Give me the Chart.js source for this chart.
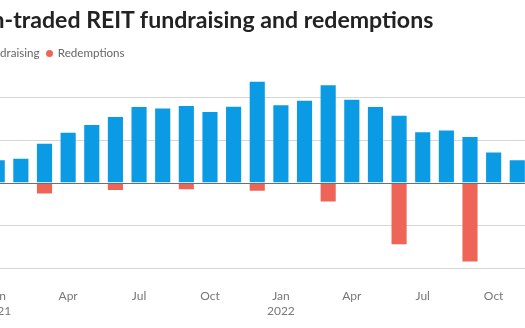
<!DOCTYPE html>
<html>
<head>
<meta charset="utf-8">
<script src="https://cdn.jsdelivr.net/npm/chart.js@4"></script>
<style>
  html, body { margin: 0; padding: 0; background: #fff; }
  #frame { position: relative; width: 525px; height: 328px; overflow: hidden; font-family: Lato, "Open Sans", sans-serif; }
  #chart { position: absolute; left: -40px; top: 0; }
  .title { position: absolute; right: 91.7px; top: 7.8px; font-size: 23.1px; line-height: 23.1px; font-weight: 700; color: #222; white-space: nowrap; }
  .legend { position: absolute; top: 47px; font-size: 11.6px; line-height: 11.6px; color: #666; white-space: nowrap; }
  .legend .dot { display: inline-block; width: 7px; height: 7px; border-radius: 50%; margin-right: 5px; vertical-align: 0; }
</style>
</head>
<body>
<div id="frame">
  <canvas id="chart" width="600" height="328"></canvas>
  <div class="title">Non-traded REIT fundraising and redemptions</div>
  <div class="legend" style="right: 485.5px"><span class="dot" style="background:#0a9be4"></span>Fundraising</div>
  <div class="legend" style="left: 45.8px"><span class="dot" style="background:#ee6557"></span>Redemptions</div>
</div>
<script>
// monthly figures, $bn
const months = [
  'Jan 2021', 'Feb 2021', 'Mar 2021', 'Apr 2021', 'May 2021', 'Jun 2021',
  'Jul 2021', 'Aug 2021', 'Sep 2021', 'Oct 2021', 'Nov 2021', 'Dec 2021',
  'Jan 2022', 'Feb 2022', 'Mar 2022', 'Apr 2022', 'May 2022', 'Jun 2022',
  'Jul 2022', 'Aug 2022', 'Sep 2022', 'Oct 2022', 'Nov 2022'
]
const tickLabels = [
  ['Jan', '2021'], '', '', 'Apr', '', '', 'Jul', '', '', 'Oct', '', '',
  ['Jan', '2022'], '', '', 'Apr', '', '', 'Jul', '', '', 'Oct', ''
]
const fundraising = [
  1.06, 1.12, 1.83, 2.34, 2.70, 3.08, 3.55, 3.48, 3.59, 3.31, 3.56, 4.73,
  3.63, 3.84, 4.56, 3.89, 3.55, 3.14, 2.36, 2.45, 2.14, 1.42, 1.05
]
// redemptions are reported quarterly, shown on the quarter's last month
const redemptions = [
  null, null, -0.50, null, null, -0.34, null, null, -0.30, null, null, -0.37,
  null, null, -0.87, null, null, -2.87, null, null, -3.68, null, null
]
const yTicks = [-4, -2, 0, 2, 4]

const blue = '#0a9be4'
const red = '#ee6557'

// zero line sits on top of the bars
const zeroLine = {
  id: 'zeroLine',
  afterDatasetsDraw(chart) {
    const { ctx, chartArea, scales } = chart
    const y = Math.round(scales.y.getPixelForValue(0)) + 0.5
    ctx.save()
    ctx.strokeStyle = '#6f6f6f'
    ctx.lineWidth = 1
    ctx.beginPath()
    ctx.moveTo(chartArea.left, y)
    ctx.lineTo(chartArea.right, y)
    ctx.stroke()
    ctx.restore()
  }
}

new Chart(document.getElementById('chart'), {
  type: 'bar',
  data: {
    labels: months,
    datasets: [
      { label: 'Fundraising', data: fundraising, backgroundColor: blue },
      { label: 'Redemptions', data: redemptions, backgroundColor: red }
    ]
  },
  options: {
    responsive: false,
    animation: false,
    layout: { padding: { top: 75.9, left: 25.4, right: 30.9, bottom: 8 } },
    datasets: { bar: { categoryPercentage: 1, barPercentage: 0.64 } },
    plugins: { legend: { display: false }, tooltip: { enabled: false } },
    scales: {
      x: {
        stacked: true,
        grid: { display: false, drawTicks: false },
        border: { display: false },
        afterFit: scale => { scale.height = 51.7 },
        ticks: {
          autoSkip: false,
          maxRotation: 0,
          padding: 21,
          color: '#777',
          font: { family: 'Lato', size: 12, lineHeight: 1.2 },
          callback: (v, i) => tickLabels[i]
        }
      },
      y: {
        stacked: true,
        min: -4,
        max: 5,
        afterBuildTicks: scale => { scale.ticks = yTicks.map(value => ({ value })) },
        grid: {
          drawTicks: false,
          color: ctx => ctx.tick && ctx.tick.value === 0 ? 'rgba(0,0,0,0)' : '#d6d6d6'
        },
        border: { display: false },
        ticks: { display: false }
      }
    }
  },
  plugins: [zeroLine]
})
</script>
</body>
</html>
